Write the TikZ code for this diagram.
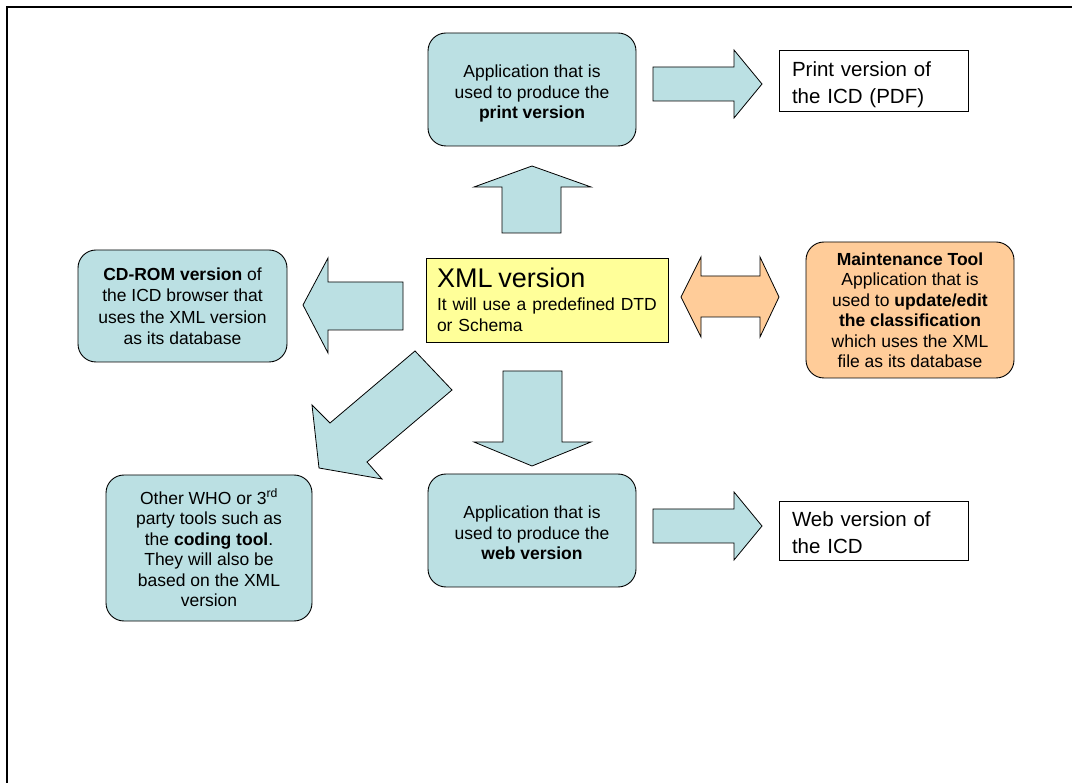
\documentclass[tikz,border=0pt]{standalone}
\usepackage{fontspec}
\setmainfont{Liberation Sans}
\definecolor{boxblue}{RGB}{187,224,227}
\definecolor{boxorange}{RGB}{255,204,153}
\definecolor{boxyellow}{RGB}{255,255,153}
\begin{document}
\begin{tikzpicture}[x=1pt,y=-1pt,
  rbox/.style={draw=black, line width=0.9pt, rounded corners=18pt, align=center, inner sep=0pt,
    font=\fontsize{17.5}{20.5}\selectfont},
  bluebox/.style={rbox, fill=boxblue},
  orangebox/.style={rbox, fill=boxorange},
  plainbox/.style={draw=black, line width=0.9pt, fill=white, align=left, inner ysep=0pt, inner xsep=13pt,
    font=\fontsize{20.5}{27}\selectfont},
  xmlbox/.style={draw=black, line width=0.9pt, fill=boxyellow, align=left, inner ysep=0pt, inner xsep=11pt,
    font=\fontsize{17.5}{20.5}\selectfont},
  blockarrow/.style={draw=black, line width=0.8pt, fill=boxblue, line join=miter},
  duoarrow/.style={draw=black, line width=0.8pt, fill=boxorange, line join=miter},
  frameline/.style={draw=black, line width=2pt}
  ]
\useasboundingbox (0,0) rectangle (1072,783);
\draw[frameline] (7,783) -- (7,7) -- (1072,7);

% boxes
\node[bluebox, minimum width=208, minimum height=113] (print) at (532,89.5)
  {\rule{0pt}{21pt}Application that is\\used to produce the\\\textbf{print version}};
\node[plainbox, text width=163, minimum height=61] (printout) at (873.5,80.5)
  {\rule{0pt}{24pt}Print version of\\the ICD (PDF)};
\node[xmlbox, text width=220, minimum height=84] (xml) at (547,300)
  {\fontsize{27}{30}\selectfont XML version\\[2pt]\fontsize{17.5}{21}\selectfont It will use a predefined DTD\\or Schema};
\node[bluebox, minimum width=209, minimum height=112, font=\fontsize{17.5}{21.5}\selectfont] (cdrom) at (182.5,306)
  {\textbf{CD-ROM version} of\\the ICD browser that\\uses the XML version\\as its database};
\node[orangebox, minimum width=208, minimum height=136] (maint) at (910,310)
  {\textbf{Maintenance Tool}\\Application that is\\used to \textbf{update/edit}\\\textbf{the classification}\\which uses the XML\\file as its database};
\node[bluebox, minimum width=208, minimum height=113] (web) at (532,530.5)
  {\rule{0pt}{18pt}Application that is\\used to produce the\\\textbf{web version}};
\node[plainbox, text width=163, minimum height=59] (webout) at (873.5,530.5)
  {\rule{0pt}{19pt}Web version of\\the ICD};
\node[bluebox, minimum width=206, minimum height=146] (other) at (209,548)
  {Other WHO or 3\textsuperscript{rd}\\party tools such as\\the \textbf{coding tool}.\\They will also be\\based on the XML\\version};

% block arrows
\draw[blockarrow] (653,67) -- (734,67) -- (734,50) -- (762,84) -- (734,118) -- (734,101) -- (653,101) -- cycle;
\draw[blockarrow] (653,509) -- (734,509) -- (734,492) -- (762,526) -- (734,560) -- (734,543) -- (653,543) -- cycle;
\draw[blockarrow] (502,233) -- (502,187) -- (474,187) -- (532,166) -- (591,187) -- (561,187) -- (561,233) -- cycle;
\draw[blockarrow] (503,371) -- (562,371) -- (562,442) -- (591,442) -- (532,466) -- (474,442) -- (503,442) -- cycle;
\draw[blockarrow] (403,282) -- (328,282) -- (328,258) -- (303,305) -- (328,353) -- (328,330) -- (403,330) -- cycle;
\draw[blockarrow] (415,351) -- (452,390) -- (367,462) -- (382,479) -- (319,468) -- (312,405) -- (330,423) -- cycle;
\draw[duoarrow] (681,297) -- (701,257) -- (701,276) -- (760,276) -- (760,257) -- (779,297) -- (760,337) -- (760,317) -- (701,317) -- (701,337) -- cycle;
\end{tikzpicture}
\end{document}
